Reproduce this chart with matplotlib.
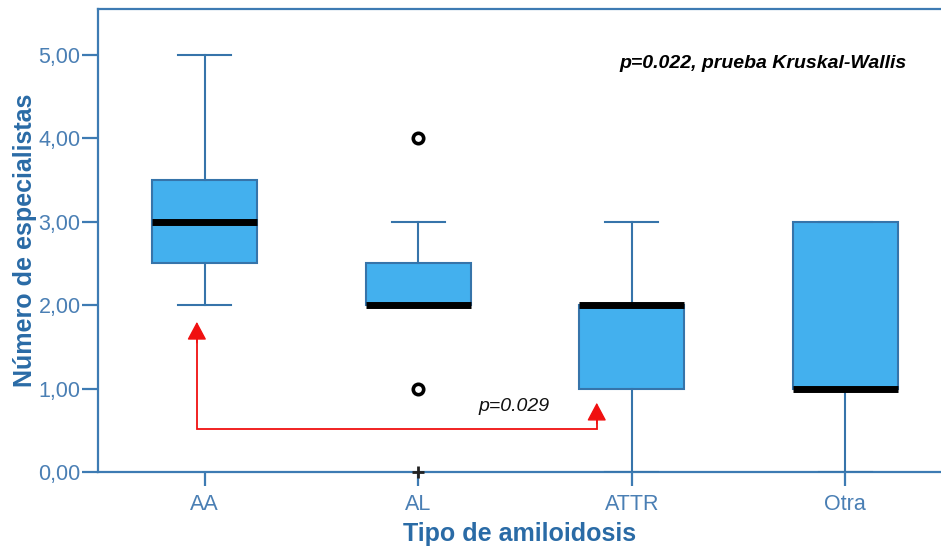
import matplotlib
matplotlib.use("Agg")
import matplotlib.pyplot as plt

plt.rcParams['font.family'] = ['Liberation Sans', 'DejaVu Sans']

# Summary statistics per amyloidosis type
categories = ['AA', 'AL', 'ATTR', 'Otra']
q1 = [2.5, 2.0, 1.0, 1.0]
medians = [3.0, 2.0, 2.0, 1.0]
q3 = [3.5, 2.5, 2.0, 3.0]
whisker_low = [2.0, 2.0, 0.0, 0.0]
whisker_high = [5.0, 3.0, 3.0, 3.0]
outliers = [[], [4.0, 1.0], [], []]
extremes = [[], [0.0], [], []]

yticks = [0, 1, 2, 3, 4, 5]
ytick_labels = ['0,00', '1,00', '2,00', '3,00', '4,00', '5,00']

# Pairwise comparison annotation (AA vs ATTR)
pair_from, pair_to = 'AA', 'ATTR'
pair_label = 'p=0.029'
global_label = 'p=0.022, prueba Kruskal-Wallis'

box_fill = '#43B0EE'
box_edge = '#3674AA'
axis_col = '#3D7BB3'
tick_col = '#4A7FB4'
label_col = '#2A6BA6'

fig = plt.figure(figsize=(9.41, 5.48), dpi=100)
ax = fig.add_axes([98 / 941, 76 / 548, 843 / 941, 463 / 548])

positions = list(range(1, len(categories) + 1))
stats = []
for i, c in enumerate(categories):
    stats.append(dict(label=c, q1=q1[i], med=medians[i], q3=q3[i],
                      whislo=whisker_low[i], whishi=whisker_high[i],
                      fliers=outliers[i]))

ax.bxp(stats, positions=positions, widths=0.49, patch_artist=True,
       boxprops=dict(facecolor=box_fill, edgecolor=box_edge, linewidth=1.5),
       medianprops=dict(color='black', linewidth=5, solid_capstyle='butt'),
       whiskerprops=dict(color=box_edge, linewidth=1.5),
       capprops=dict(color=box_edge, linewidth=1.5),
       capwidths=0.25,
       flierprops=dict(marker='o', markerfacecolor='white', markeredgecolor='black',
                       markersize=7.5, markeredgewidth=2.6),
       zorder=3)

for i, vals in enumerate(extremes):
    if vals:
        ax.plot([positions[i]] * len(vals), vals, linestyle='none', marker='+',
                color='#222222', markersize=9, markeredgewidth=2, zorder=5,
                clip_on=False)

ax.set_xlim(0.5, 0.5 + 843 / 213.5)
ax.set_ylim(0, 463 / 83.4)

ax.set_xticks(positions)
ax.set_xticklabels(categories)
ax.set_yticks(yticks)
ax.set_yticklabels(ytick_labels)

ax.spines['right'].set_visible(False)
for s in ['left', 'bottom', 'top']:
    ax.spines[s].set_color(axis_col)
    ax.spines[s].set_linewidth(1.6)

ax.tick_params(axis='y', length=11.5, width=1.6, color=axis_col, labelcolor=tick_col,
               labelsize=15.5, pad=1)
ax.tick_params(axis='x', length=10, width=1.6, color=axis_col, labelcolor=tick_col,
               labelsize=15.5, pad=6)

ax.set_ylabel('Número de especialistas', fontsize=18, fontweight='bold',
              color=label_col, labelpad=1)
ax.set_xlabel('Tipo de amiloidosis', fontsize=18, fontweight='bold',
              color=label_col, labelpad=5)

# Bracket with arrows for the pairwise test
xa = categories.index(pair_from) + 1 - 0.037
xb = categories.index(pair_to) + 1 - 0.164
y_base = 0.52
tip_a = 1.80
tip_b = 0.83
red = '#F01010'
ax.plot([xa, xa, xb, xb], [tip_a - 0.2, y_base, y_base, tip_b - 0.2],
        color=red, linewidth=1.3, zorder=4, solid_joinstyle='miter')
for x, tip in [(xa, tip_a), (xb, tip_b)]:
    ax.annotate('', xy=(x, tip), xytext=(x, tip - 0.25),
                arrowprops=dict(arrowstyle='-|>,head_length=0.75,head_width=0.4',
                                color=red, lw=1.0, shrinkA=0, shrinkB=0,
                                mutation_scale=15),
                zorder=4)

ax.text(2.45, 0.78, pair_label, fontsize=14, fontstyle='italic', color='#111111',
        ha='center', va='center')
ax.text(4.29, 4.9, global_label, fontsize=14, fontstyle='italic', fontweight='bold',
        color='black', ha='right', va='center')

fig.savefig('out.png', dpi=100)
